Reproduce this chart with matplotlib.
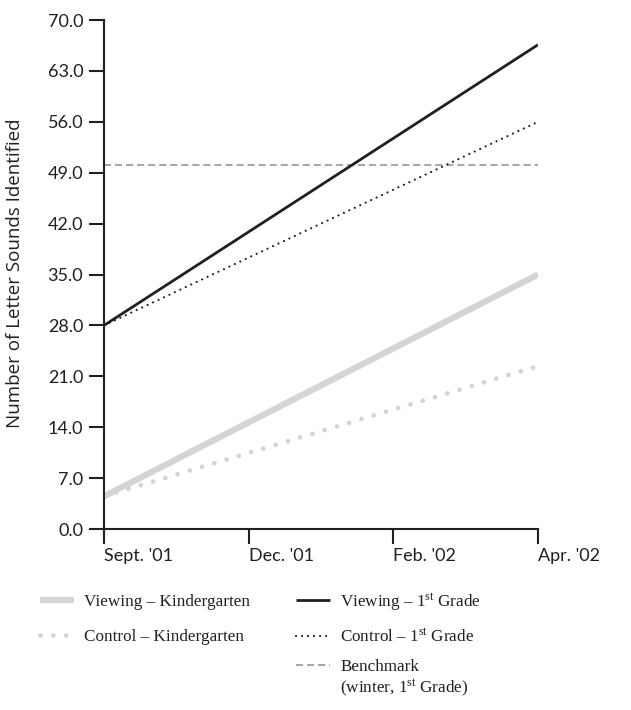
import matplotlib
matplotlib.use('Agg')
import matplotlib.pyplot as plt
from matplotlib.lines import Line2D

# Data (start and end of each line)
months = ["Sept. '01", "Dec. '01", "Feb. '02", "Apr. '02"]
line_points = [0, 3]  # Sept. and Apr. positions
viewing_k = [4.5, 35.0]
control_k = [4.5, 22.4]
viewing_1st = [28.0, 66.6]
control_1st = [28.0, 56.0]
benchmark = [50.0, 50.0]
y_ticks = [0, 7, 14, 21, 28, 35, 42, 49, 56, 63, 70]

plt.rcParams['mathtext.fontset'] = 'custom'
plt.rcParams['mathtext.rm'] = 'Liberation Serif'
plt.rcParams['mathtext.it'] = 'Liberation Serif:italic'

dark = '#231f20'
light = '#d4d4d4'
bench_col = '#a8a8a8'

# line styles shared by plot and legend
styles = {
    'vk': dict(color=light, lw=4.5, solid_capstyle='butt'),
    'ck': dict(color=light, lw=3.4, linestyle=(0, (0.01, 2.7)), dash_capstyle='round'),
    'v1': dict(color=dark, lw=2.0, solid_capstyle='butt'),
    'c1': dict(color=dark, lw=1.6, linestyle=(0, (0.01, 2.7)), dash_capstyle='round'),
    'bm': dict(color=bench_col, lw=1.5, linestyle=(0, (3.4, 1.9))),
}

fig = plt.figure(figsize=(6.31, 7.10), dpi=100)
ax = fig.add_axes([0.1648, 0.2549, 0.8526 - 0.1648, 0.9718 - 0.2549])

x = line_points
ax.plot(x, benchmark, **styles['bm'])
ax.plot(x, viewing_k, **styles['vk'])
ax.plot(x, control_k, **styles['ck'])
ax.plot(x, viewing_1st, **styles['v1'])
ax.plot(x, control_1st, **styles['c1'])

ax.set_xlim(0, 3)
ax.set_ylim(0, 70)
ax.set_xticks(range(len(months)))
ax.set_xticklabels(months, fontsize=13, family='Lato')
ax.set_yticks(y_ticks)
ax.set_yticklabels(['%.1f' % v for v in y_ticks], fontsize=13, family='Lato')
for lab in ax.get_xticklabels():
    lab.set_ha('left')

for s in ['top', 'right']:
    ax.spines[s].set_visible(False)
for s in ['left', 'bottom']:
    ax.spines[s].set_linewidth(1.5)
    ax.spines[s].set_color(dark)
ax.tick_params(axis='both', length=11, width=1.5, color=dark, labelcolor=dark)
ax.tick_params(axis='y', pad=4)
ax.tick_params(axis='x', pad=3)

fig.text(0.024, 1 - 273 / 710, 'Number of Letter Sounds Identified', rotation=90,
         ha='center', va='center', fontsize=13.5, family='Open Sans', color=dark)

# Legend: one small legend per entry so the rows line up like the reference
sup = r'1$^{\mathrm{st}}$'
entries = [
    ('vk', 'Viewing \u2013 Kindergarten', 40, 602),
    ('ck', 'Control \u2013 Kindergarten', 40, 637),
    ('v1', 'Viewing \u2013 ' + sup + ' Grade', 296, 602),
    ('c1', 'Control \u2013 ' + sup + ' Grade', 296, 637),
    ('bm', 'Benchmark', 296, 667),
]
for key, label, px, py in entries:
    leg = fig.legend([Line2D([], [], **styles[key])], [label],
                     loc='center left', bbox_to_anchor=(px / 631, 1 - py / 710),
                     frameon=False, prop={'family': 'Liberation Serif', 'size': 12.3},
                     handlelength=2.0, handletextpad=0.6,
                     borderaxespad=0, borderpad=0)
    leg.get_texts()[0].set_color(dark)

# second line of the benchmark entry
fig.canvas.draw()
bb = leg.get_texts()[0].get_window_extent()
fig.text(bb.x0 / fig.bbox.width, 1 - 688 / 710,
         '(winter, ' + sup + ' Grade)', ha='left', va='center',
         family='Liberation Serif', fontsize=12.3, color=dark)

fig.savefig('out.png', dpi=100)
